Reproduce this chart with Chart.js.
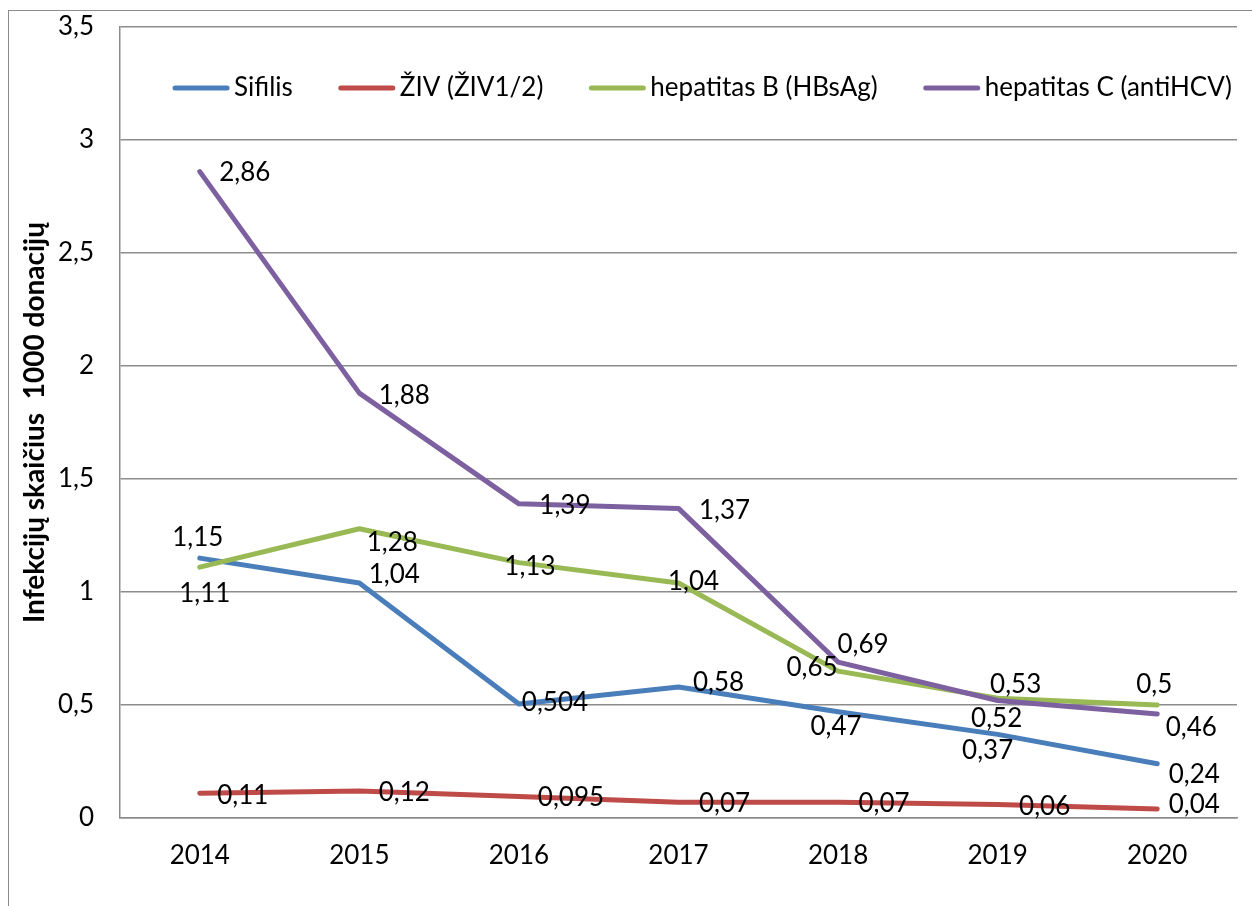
<!DOCTYPE html>
<html>
<head>
<meta charset="utf-8">
<script src="https://cdn.jsdelivr.net/npm/chart.js@4/dist/chart.umd.min.js"></script>
<style>
  html, body { margin: 0; padding: 0; background: #fff; overflow: hidden; }
  #wrap { position: absolute; left: 0; top: 0; width: 1252px; height: 906px; }
  #frame { position: absolute; left: 8px; top: 10px; width: 1400px; height: 1000px; border: 1px solid #8c8c8c; }
  canvas { position: absolute; left: 0; top: 0; }
</style>
</head>
<body>
<div id="wrap">
  <div id="frame"></div>
  <canvas id="myChart" width="1252" height="906"></canvas>
</div>
<script>
// data
var years = ["2014", "2015", "2016", "2017", "2018", "2019", "2020"];
var sifilis = [1.15, 1.04, 0.504, 0.58, 0.47, 0.37, 0.24];
var ziv = [0.11, 0.12, 0.095, 0.07, 0.07, 0.06, 0.04];
var hepatitasB = [1.11, 1.28, 1.13, 1.04, 0.65, 0.53, 0.5];
var hepatitasC = [2.86, 1.88, 1.39, 1.37, 0.69, 0.52, 0.46];

// where each value label sits, relative to its point (px)
var labelOffsets = [
    [[-2, -20], [35, -8], [36, -1], [40, -4], [-2, 15], [-10, 16], [37, 11]],
    [[43, 2], [45, 2], [52, 1], [46, 1], [46, 1], [47, 2], [37, -4]],
    [[5, 26], [33, 14], [11, 4], [15, -1], [-26, -3], [18, -14], [-3, -20]],
    [[45, 1], [45, 2], [46, 2], [46, 2], [25, -17], [-1, 18], [34, 14]]
];

var fontFamily = "Lato, 'Open Sans', sans-serif";

function comma(v) {
    return String(v).replace('.', ',');
}

// value labels, drawn by hand (no datalabels plugin available)
var valueLabels = {
    id: 'valueLabels',
    afterDatasetsDraw: function (chart) {
        var ctx = chart.ctx;
        ctx.save();
        ctx.font = "26px " + fontFamily;
        ctx.fillStyle = "#000";
        ctx.textAlign = "center";
        ctx.textBaseline = "middle";
        chart.data.datasets.forEach(function (ds, i) {
            var meta = chart.getDatasetMeta(i);
            meta.data.forEach(function (pt, j) {
                var off = labelOffsets[i][j];
                ctx.fillText(comma(ds.data[j]), pt.x + off[0], pt.y + off[1]);
            });
        });
        ctx.restore();
    }
};

// legend inside the plot area, one row, like the excel original
var innerLegend = {
    id: 'innerLegend',
    afterDatasetsDraw: function (chart) {
        var ctx = chart.ctx;
        var area = chart.chartArea;
        var lineLen = 56, gap = 5, spacing = 46;
        ctx.save();
        ctx.font = "26px " + fontFamily;
        var sets = chart.data.datasets;
        var total = 0;
        sets.forEach(function (ds, i) {
            total += lineLen + gap + ctx.measureText(ds.label).width;
            if (i < sets.length - 1) total += spacing;
        });
        var x = (area.left + area.right) / 2 + 24 - total / 2;
        var y = area.top + 61;
        ctx.textBaseline = "middle";
        ctx.textAlign = "left";
        sets.forEach(function (ds) {
            ctx.strokeStyle = ds.borderColor;
            ctx.lineWidth = ds.borderWidth;
            ctx.lineCap = 'round';
            ctx.beginPath();
            ctx.moveTo(x + 2, y);
            ctx.lineTo(x + lineLen - 2, y);
            ctx.stroke();
            ctx.fillStyle = "#000";
            ctx.fillText(ds.label, x + lineLen + gap, y);
            x += lineLen + gap + ctx.measureText(ds.label).width + spacing;
        });
        ctx.restore();
    }
};

function line(label, data, color, order) {
    return {
        label: label,
        data: data,
        borderColor: color,
        backgroundColor: color,
        borderWidth: 5,
        borderCapStyle: 'round',
        borderJoinStyle: 'round',
        pointRadius: 0,
        tension: 0,
        fill: false,
        order: order
    };
}

var ctx = document.getElementById("myChart").getContext('2d');
var myChart = new Chart(ctx, {
    type: 'line',
    data: {
        labels: years,
        datasets: [
            line("Sifilis", sifilis, "#4A7EBB", 3),
            line("ŽIV (ŽIV1/2)", ziv, "#BE4B48", 2),
            line("hepatitas B (HBsAg)", hepatitasB, "#98B954", 1),
            line("hepatitas C (antiHCV)", hepatitasC, "#7D60A0", 0)
        ]
    },
    options: {
        responsive: false,
        animation: false,
        devicePixelRatio: 1,
        layout: {
            padding: { left: 0, top: 27, right: 15, bottom: 0 }
        },
        plugins: {
            title: { display: false },
            tooltip: { enabled: false },
            legend: { display: false }
        },
        scales: {
            x: {
                offset: true,
                grid: { display: false, drawTicks: false },
                border: { display: true, color: "#8c8c8c", width: 1.5 },
                ticks: {
                    color: "#000",
                    padding: 22,
                    maxRotation: 0,
                    font: { family: fontFamily, size: 26 }
                },
                afterFit: function (scale) { scale.height = 88; }
            },
            y: {
                min: 0,
                max: 3.5,
                ticks: {
                    stepSize: 0.5,
                    color: "#000",
                    padding: 8,
                    font: { family: fontFamily, size: 26 },
                    callback: function (v) { return comma(v); }
                },
                grid: {
                    color: "#8c8c8c",
                    lineWidth: 1.5,
                    drawTicks: true,
                    tickLength: 18,
                    tickColor: 'rgba(0,0,0,0)'
                },
                border: { display: true, color: "#8c8c8c", width: 1.5 },
                title: {
                    display: true,
                    text: "Infekcijų skaičius  1000 donacijų",
                    color: "#000",
                    padding: { top: 18, bottom: 0 },
                    font: { family: fontFamily, size: 28, weight: 'bold' }
                },
                afterFit: function (scale) { scale.width = 120; }
            }
        }
    },
    plugins: [valueLabels, innerLegend]
});
</script>
</body>
</html>
